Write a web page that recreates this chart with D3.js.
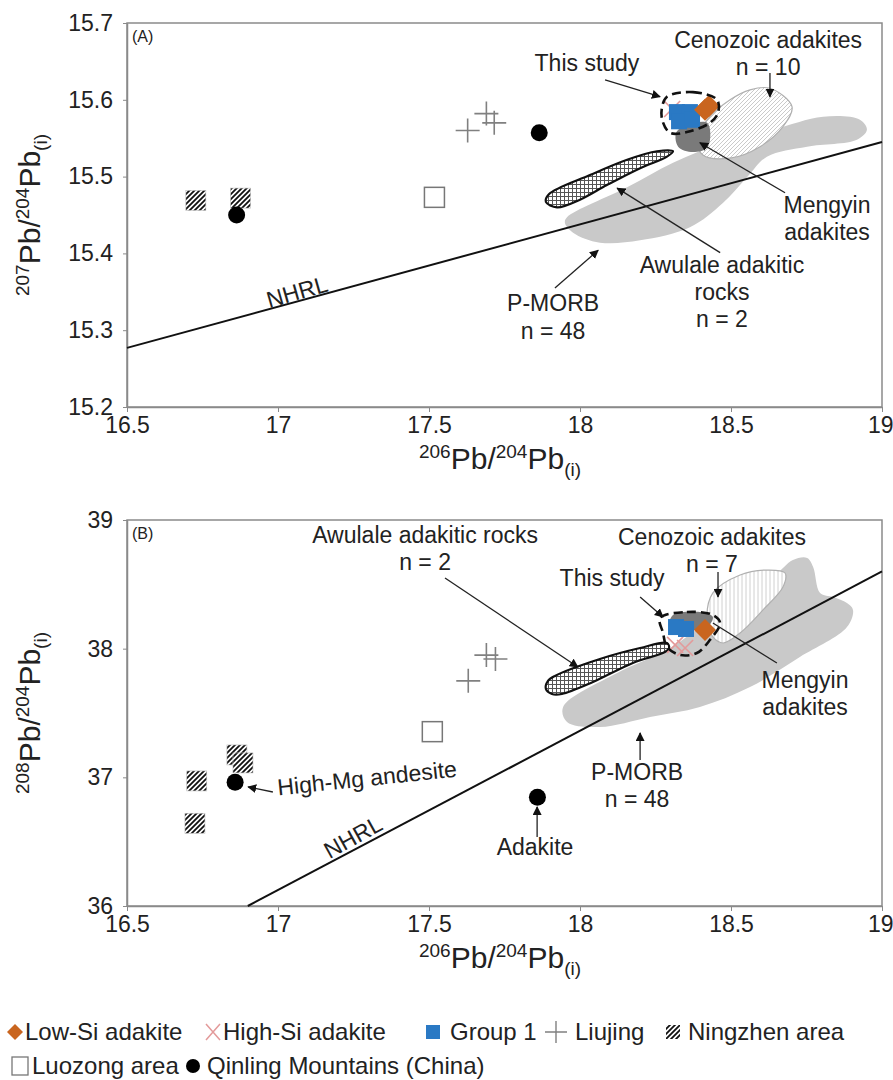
<!DOCTYPE html>
<html><head><meta charset="utf-8">
<script src="https://cdn.jsdelivr.net/npm/d3@7"></script>
<style>body{margin:0;background:#fff} svg{display:block} text{font-family:"Liberation Sans",Arial,sans-serif;fill:#222}</style>
</head><body>
<svg id="c" width="893" height="1080"></svg>
<script>
// ---------------- DATA ----------------
const xTicks = [16.5, 17, 17.5, 18, 18.5, 19];
const yTicksA = [15.2, 15.3, 15.4, 15.5, 15.6, 15.7];
const yTicksB = [36, 37, 38, 39];

// Panel A (207Pb/204Pb vs 206Pb/204Pb)
const ningzhenA = [[16.728, 15.469], [16.876, 15.472]];
const qinlingA = [[16.863, 15.450], [17.865, 15.557]];
const luozongA = [[17.518, 15.473]];
const liujingA = [[17.628, 15.560], [17.690, 15.582], [17.716, 15.570]];
const group1A = [[18.321, 15.584], [18.364, 15.584], [18.328, 15.572], [18.371, 15.574]];
const lowSiA = [[18.414, 15.587], [18.427, 15.592]];
const highSiA = [[18.305, 15.588]];
const nhrlA = [[16.5, 15.277], [19, 15.545]];
const pmorbA = [[17.957,15.447],[18.156,15.486],[18.308,15.518],[18.474,15.544],[18.639,15.561],[18.805,15.578],[18.927,15.574],[18.950,15.561],[18.917,15.548],[18.752,15.539],[18.619,15.526],[18.553,15.499],[18.474,15.466],[18.364,15.434],[18.199,15.417],[18.066,15.414],[17.977,15.427],[17.950,15.440]];
const cenozoicA = [[18.629,15.615],[18.702,15.591],[18.672,15.565],[18.596,15.539],[18.497,15.524],[18.407,15.528],[18.387,15.548],[18.421,15.574],[18.497,15.600],[18.563,15.613]];
const awulaleA = [[17.897,15.477],[18.033,15.502],[18.156,15.522],[18.255,15.533],[18.308,15.533],[18.288,15.526],[18.199,15.511],[18.089,15.489],[18.000,15.470],[17.924,15.460],[17.887,15.467]];
const mengyinA = [[18.321,15.559],[18.421,15.570],[18.424,15.539],[18.374,15.532],[18.325,15.539]];
const thisStudyA = [[18.288,15.604],[18.374,15.610],[18.454,15.600],[18.457,15.583],[18.430,15.570],[18.354,15.558],[18.298,15.557],[18.272,15.574],[18.272,15.591]];

// Panel B (208Pb/204Pb vs 206Pb/204Pb)
const ningzhenB = [[16.731, 36.972], [16.725, 36.643], [16.864, 37.174], [16.884, 37.112]];
const qinlingB = [[16.858, 36.962], [17.859, 36.846]];
const luozongB = [[17.511, 37.355]];
const liujingB = [[17.630, 37.750], [17.690, 37.950], [17.720, 37.920]];
const group1B = [[18.318, 38.168], [18.351, 38.153]];
const lowSiB = [[18.414, 38.145]];
const highSiB = [[18.315, 38.029], [18.348, 38.005]];
const nhrlB = [[16.9, 36.0], [19, 38.6]];
const pmorbB = [[17.944,37.547],[18.123,37.811],[18.288,37.990],[18.397,38.168],[18.507,38.378],[18.639,38.557],[18.705,38.689],[18.752,38.705],[18.772,38.635],[18.795,38.433],[18.838,38.402],[18.884,38.355],[18.904,38.301],[18.884,38.168],[18.728,37.935],[18.563,37.702],[18.397,37.547],[18.232,37.469],[18.066,37.391],[17.957,37.430]];
const cenozoicB = [[18.440,38.433],[18.530,38.573],[18.619,38.611],[18.679,38.588],[18.672,38.479],[18.606,38.301],[18.530,38.122],[18.474,38.044],[18.440,38.091],[18.421,38.223]];
const awulaleB = [[17.917,37.788],[18.066,37.920],[18.199,38.005],[18.288,38.044],[18.295,38.005],[18.281,37.974],[18.175,37.889],[18.043,37.741],[17.940,37.648],[17.907,37.648],[17.887,37.687],[17.894,37.749]];
const mengyinB = [[18.308,38.262],[18.397,38.285],[18.440,38.246],[18.421,38.168],[18.354,38.145],[18.298,38.184]];
const thisStudyB = [[18.265,38.238],[18.354,38.285],[18.440,38.262],[18.464,38.199],[18.430,38.067],[18.387,37.966],[18.331,37.951],[18.288,38.013],[18.275,38.122]];

// Annotations: text lines, text anchor (data), arrow from/to (data), rotation
const notesA = [
  {lines:["This study"], at:[18.023,15.648], from:[18.083,15.626], to:[18.265,15.604]},
  {lines:["Cenozoic adakites","n = 10"], at:[18.623,15.678], from:[18.629,15.635], to:[18.629,15.604]},
  {lines:["Mengyin","adakites"], at:[18.818,15.463], from:[18.679,15.479], to:[18.397,15.544]},
  {lines:["Awulale adakitic","rocks","n = 2"], at:[18.470,15.385], from:[18.464,15.401], to:[18.123,15.485]},
  {lines:["P-MORB","n = 48"], at:[17.911,15.335], from:[17.917,15.355], to:[18.060,15.404]},
  {lines:["NHRL"], at:[17.063,15.350], rot:-16}
];
const notesB = [
  {lines:["Awulale adakitic rocks","n = 2"], at:[17.487,38.883], from:[17.553,38.549], to:[17.993,37.858]},
  {lines:["This study"], at:[18.106,38.549], from:[18.199,38.402], to:[18.275,38.246]},
  {lines:["Cenozoic adakites","n = 7"], at:[18.437,38.868], from:[18.457,38.596], to:[18.457,38.402]},
  {lines:["Mengyin","adakites"], at:[18.745,37.757], from:[18.652,37.889], to:[18.440,38.199], noHead:true},
  {lines:["P-MORB","n = 48"], at:[18.189,37.042], from:[18.199,37.135], to:[18.199,37.345]},
  {lines:["High-Mg andesite"], at:[17.295,36.995], from:[16.983,36.886], to:[16.901,36.925], rot:-6},
  {lines:["Adakite"], at:[17.851,36.459], from:[17.858,36.536], to:[17.858,36.770]},
  {lines:["NHRL"], at:[17.248,36.536], rot:-29}
];

const legendRow1 = ["Low-Si adakite","High-Si adakite","Group 1","Liujing","Ningzhen area"];
const legendRow2 = ["Luozong area","Qinling Mountains (China)"];

// ---------------- DRAW ----------------
const svg = d3.select("#c");
const x = d3.scaleLinear().domain([16.5, 19]).range([127, 882]);
const yA = d3.scaleLinear().domain([15.2, 15.7]).range([407, 23]);
const yB = d3.scaleLinear().domain([36, 39]).range([906, 520]);

const COL = {orange:"#c9651f", blue:"#2a79c4", pink:"#e39a9a", pmorb:"#c9c9c9", mengyin:"#7a7a7a", axis:"#8a8a8a"};
const FS = {tick:23, note:23, legend:24};

const defs = svg.append("defs");
function hatch(id, size, path, stroke, sw, bg){
  const p = defs.append("pattern").attr("id", id).attr("patternUnits","userSpaceOnUse")
    .attr("width", size).attr("height", size);
  p.append("rect").attr("width", size).attr("height", size).attr("fill", bg);
  p.append("path").attr("d", path).attr("stroke", stroke).attr("stroke-width", sw).attr("fill","none");
}
hatch("nz", 5, "M-1,6 L6,-1 M-1,1 L1,-1 M4,6 L6,4", "#111", 1.8, "#fff");
hatch("cenoA", 4, "M-1,5 L5,-1 M-1,1 L1,-1 M3,5 L5,3", "#bdbdbd", 0.8, "#fff");
hatch("cenoB", 4, "M2,0 L2,4", "#c4c4c4", 0.8, "#fff");
const ck = defs.append("pattern").attr("id","check").attr("patternUnits","userSpaceOnUse").attr("width",4).attr("height",4);
ck.append("rect").attr("width",4).attr("height",4).attr("fill","#fff");
ck.append("path").attr("d","M0,0.5 H4 M0.5,0 V4").attr("stroke","#555").attr("stroke-width",1);

defs.append("marker").attr("id","arr").attr("viewBox","0 0 10 10").attr("refX",9).attr("refY",5)
  .attr("markerWidth",9).attr("markerHeight",9).attr("markerUnits","userSpaceOnUse").attr("orient","auto")
  .append("path").attr("d","M0,0 L10,5 L0,10 Z").attr("fill","#111");

function isoTitle(g, tx, ty, rot, top){
  const t = g.append("text").attr("transform",`translate(${tx},${ty}) rotate(${rot})`)
    .attr("text-anchor","middle").style("font-size","30px");
  t.append("tspan").text(top).style("font-size","19px").attr("dy",-11);
  t.append("tspan").text("Pb/").attr("dy",11);
  t.append("tspan").text("204").style("font-size","19px").attr("dy",-11);
  t.append("tspan").text("Pb").attr("dy",11);
  t.append("tspan").text("(i)").style("font-size","19px").attr("dy",7);
}

function marker(g, type, cx, cy){
  if(type==="ningzhen"){
    g.append("rect").attr("x",cx-10).attr("y",cy-10).attr("width",20).attr("height",20).attr("fill","url(#nz)").attr("stroke","#bbb").attr("stroke-width",0.6);
  } else if(type==="qinling"){
    g.append("circle").attr("cx",cx).attr("cy",cy).attr("r",8.5).attr("fill","#000");
  } else if(type==="luozong"){
    g.append("rect").attr("x",cx-10).attr("y",cy-10).attr("width",20).attr("height",20).attr("fill","#fff").attr("stroke","#777").attr("stroke-width",1.5);
  } else if(type==="liujing"){
    g.append("path").attr("d",`M${cx-12},${cy} H${cx+12} M${cx},${cy-12} V${cy+12}`).attr("stroke","#808080").attr("stroke-width",1.6);
  } else if(type==="group1"){
    g.append("rect").attr("x",cx-8).attr("y",cy-8).attr("width",16).attr("height",16).attr("fill",COL.blue);
  } else if(type==="lowSi"){
    g.append("path").attr("d",`M${cx},${cy-11} L${cx+11},${cy} L${cx},${cy+11} L${cx-11},${cy} Z`).attr("fill",COL.orange);
  } else if(type==="highSi"){
    g.append("path").attr("d",`M${cx-8},${cy-8} L${cx+8},${cy+8} M${cx+8},${cy-8} L${cx-8},${cy+8}`).attr("stroke",COL.pink).attr("stroke-width",1.6);
  }
}

function panel(cfg){
  const y = cfg.y;
  const g = svg.append("g");
  const [y0, y1] = y.range(); // bottom, top
  g.append("rect").attr("x",x.range()[0]).attr("y",y1).attr("width",x.range()[1]-x.range()[0]).attr("height",y0-y1)
    .attr("fill","none").attr("stroke",COL.axis).attr("stroke-width",1.5);
  const ax = g.append("g").attr("transform",`translate(0,${y0})`)
    .call(d3.axisBottom(x).tickValues(xTicks).tickSize(5).tickSizeOuter(0).tickFormat(d3.format("")));
  const ay = g.append("g").attr("transform",`translate(${x.range()[0]},0)`)
    .call(d3.axisLeft(y).tickValues(cfg.yTicks).tickSize(4).tickSizeOuter(0).tickFormat(cfg.fmt));
  [ax, ay].forEach(a=>{
    a.select(".domain").attr("stroke",COL.axis).attr("stroke-width",1.5);
    a.selectAll(".tick line").attr("stroke",COL.axis);
    a.selectAll(".tick text").style("font-size",FS.tick+"px").attr("fill","#222")
      .style("font-family","'Liberation Sans',Arial,sans-serif");
  });
  ax.selectAll(".tick text").attr("y",8).attr("dy","0.8em");
  ax.select(".tick:last-of-type text").attr("text-anchor","end").attr("x",11);
  ay.selectAll(".tick text").attr("x",-14);

  const curve = d3.line().x(d=>x(d[0])).y(d=>y(d[1])).curve(d3.curveCatmullRomClosed.alpha(0.5));
  g.append("path").attr("d",curve(cfg.pmorb)).attr("fill",COL.pmorb);
  g.append("path").attr("d",curve(cfg.cenozoic)).attr("fill",cfg.cenoFill).attr("stroke","#b0b0b0").attr("stroke-width",1.2);
  g.append("path").attr("d",curve(cfg.awulale)).attr("fill","url(#check)").attr("stroke","#111").attr("stroke-width",2.2);
  g.append("path").attr("d",d3.line().x(d=>x(d[0])).y(d=>y(d[1]))(cfg.nhrl)).attr("stroke","#111").attr("stroke-width",2).attr("fill","none");
  g.append("path").attr("d",curve(cfg.mengyin)).attr("fill",COL.mengyin);

  cfg.highSi.forEach(d=>marker(g,"highSi",x(d[0]),y(d[1])));
  cfg.group1.forEach(d=>marker(g,"group1",x(d[0]),y(d[1])));
  cfg.lowSi.forEach(d=>marker(g,"lowSi",x(d[0]),y(d[1])));
  g.append("path").attr("d",curve(cfg.thisStudy)).attr("fill","none").attr("stroke","#111").attr("stroke-width",2.6).attr("stroke-dasharray","9,5");

  cfg.ningzhen.forEach(d=>marker(g,"ningzhen",x(d[0]),y(d[1])));
  cfg.qinling.forEach(d=>marker(g,"qinling",x(d[0]),y(d[1])));
  cfg.luozong.forEach(d=>marker(g,"luozong",x(d[0]),y(d[1])));
  cfg.liujing.forEach(d=>marker(g,"liujing",x(d[0]),y(d[1])));

  cfg.notes.forEach(n=>{
    if(n.from){
      g.append("line").attr("x1",x(n.from[0])).attr("y1",y(n.from[1])).attr("x2",x(n.to[0])).attr("y2",y(n.to[1]))
        .attr("stroke","#222").attr("stroke-width",1.3).attr("marker-end", n.noHead?null:"url(#arr)");
    }
    const t = g.append("text").attr("text-anchor","middle").style("font-size",FS.note+"px")
      .attr("transform",`translate(${x(n.at[0])},${y(n.at[1])}) rotate(${n.rot||0})`);
    n.lines.forEach((l,i)=>t.append("tspan").attr("x",0).attr("dy", i===0? "0.35em":"1.18em").text(l));
  });
  g.append("text").attr("x",x.range()[0]+5).attr("y",y1+19).style("font-size","16px").text(cfg.label);
  isoTitle(g, 500, y0+62, 0, "206");
  isoTitle(g, 40, (y0+y1)/2, -90, cfg.ytop);
}

panel({y:yA, yTicks:yTicksA, fmt:d3.format(".1f"), label:"(A)", ytop:"207",
  pmorb:pmorbA, cenozoic:cenozoicA, cenoFill:"url(#cenoA)", awulale:awulaleA, mengyin:mengyinA, thisStudy:thisStudyA,
  nhrl:nhrlA, ningzhen:ningzhenA, qinling:qinlingA, luozong:luozongA, liujing:liujingA,
  group1:group1A, lowSi:lowSiA, highSi:highSiA, notes:notesA});
panel({y:yB, yTicks:yTicksB, fmt:d3.format("d"), label:"(B)", ytop:"208",
  pmorb:pmorbB, cenozoic:cenozoicB, cenoFill:"url(#cenoB)", awulale:awulaleB, mengyin:mengyinB, thisStudy:thisStudyB,
  nhrl:nhrlB, ningzhen:ningzhenB, qinling:qinlingB, luozong:luozongB, liujing:liujingB,
  group1:group1B, lowSi:lowSiB, highSi:highSiB, notes:notesB});

// legend
const lg = svg.append("g");
const row1Types = ["lowSi","highSi","group1","liujing","ningzhen"];
const row1X = [15, 213, 433, 556, 673];
const row2Types = ["luozong","qinling"];
const row2X = [20, 193];
function legendItem(type, label, lx, ly, gap){
  const s = lg.append("g");
  if(type==="lowSi") s.append("path").attr("d",`M${lx},${ly-8} L${lx+8},${ly} L${lx},${ly+8} L${lx-8},${ly} Z`).attr("fill",COL.orange);
  else if(type==="highSi") s.append("path").attr("d",`M${lx-7},${ly-8} L${lx+7},${ly+8} M${lx+7},${ly-8} L${lx-7},${ly+8}`).attr("stroke",COL.pink).attr("stroke-width",1.5);
  else if(type==="group1") s.append("rect").attr("x",lx-7).attr("y",ly-7).attr("width",14).attr("height",14).attr("fill",COL.blue);
  else if(type==="liujing") s.append("path").attr("d",`M${lx-11},${ly} H${lx+11} M${lx},${ly-11} V${ly+11}`).attr("stroke","#808080").attr("stroke-width",1.4);
  else if(type==="ningzhen") s.append("rect").attr("x",lx-7).attr("y",ly-7).attr("width",14).attr("height",14).attr("fill","url(#nz)");
  else if(type==="luozong") s.append("rect").attr("x",lx-8).attr("y",ly-9).attr("width",16).attr("height",18).attr("fill","#fff").attr("stroke","#777").attr("stroke-width",1.3);
  else if(type==="qinling") s.append("circle").attr("cx",lx).attr("cy",ly).attr("r",7).attr("fill","#000");
  lg.append("text").attr("x",lx+gap).attr("y",ly).attr("dy","0.35em").style("font-size",FS.legend+"px").text(label);
}
const row1Gap = [10, 10, 17, 19, 15];
legendRow1.forEach((l,i)=>legendItem(row1Types[i], l, row1X[i], 1032, row1Gap[i]));
const row2Gap = [12, 14];
legendRow2.forEach((l,i)=>legendItem(row2Types[i], l, row2X[i], 1066, row2Gap[i]));
</script>
</body></html>
